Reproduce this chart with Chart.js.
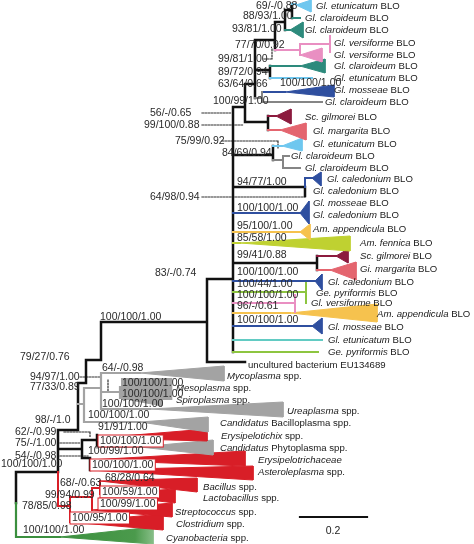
<!DOCTYPE html>
<html><head><meta charset="utf-8">
<script src="https://cdn.jsdelivr.net/npm/chart.js@4.4.0/dist/chart.umd.min.js"></script>
<style>html,body{margin:0;padding:0;background:#fff}canvas{display:block}
.fp{position:absolute;left:-9999px;top:0;font-family:'Liberation Sans'}</style>
</head><body>
<span class="fp">Gl. BLO 100/100</span><span class="fp" style="font-style:italic">Gl. etunicatum</span>
<canvas id="c" width="474" height="544" style="width:474px;height:544px"></canvas>
<script>
// ---------- DATA: tree layout (x = branch-length axis, y = row axis) ----------
// terminal labels: italic part, plain part, tip position
const leafItalic = ["Gl. etunicatum","Gl. claroideum","Gl. claroideum","Gl. versiforme","Gl. versiforme","Gl. claroideum","Gl. etunicatum","Gl. mosseae","Gl. claroideum","Sc. gilmorei","Gl. margarita","Gl. etunicatum","Gl. claroideum","Gl. claroideum","Gl. caledonium","Gl. caledonium","Gl. mosseae","Gl. caledonium","Am. appendicula","Am. fennica","Sc. gilmorei","Gi. margarita","Gl. caledonium","Ge. pyriformis","Gl. versiforme","Am. appendicula","Gl. mosseae","Gl. etunicatum","Ge. pyriformis","","Mycoplasma","Mesoplasma","Spiroplasma","Ureaplasma","Candidatus","Erysipelotichix","Candidatus","Erysipelotrichaceae","Asteroleplasma","Bacillus","Lactobacillus","Streptococcus","Clostridium","Cyanobacteria"];
const leafPlain = [" BLO"," BLO"," BLO"," BLO"," BLO"," BLO"," BLO"," BLO"," BLO"," BLO"," BLO"," BLO"," BLO"," BLO"," BLO"," BLO"," BLO"," BLO"," BLO"," BLO"," BLO"," BLO"," BLO"," BLO"," BLO"," BLO"," BLO"," BLO"," BLO","uncultured bacterium EU134689"," spp."," spp."," spp."," spp."," Bacilloplasma spp."," spp."," Phytoplasma spp.",""," spp."," spp."," spp."," spp."," spp."," spp."];
const leafX = [316,305,305,334,334,334,334,334,325,305,313,313,291,305,327,313,313,313,313,360,360,360,328,316,311,377,328,328,328,248,227,176,176,287,220,221,220,258,258,203,203,175,176,166];
const leafY = [6,18,30,43,55,66,78,90,102,117,131,144,156,168,179,191,203,215,229,243,256,269,282,293,303,314,327,340,352,365,376,388,400,411,423,436,448,460,472,487,498,512,524,538];

// node support values (bootstrap ML / MP / posterior) and their anchor
const supText = ["69/-/0.88","88/93/1.00","93/81/1.00","77/70/0.92","99/81/1.00","89/72/0.94","63/64/0.66","100/100/1.00","100/99/1.00","56/-/0.65","99/100/0.88","75/99/0.92","84/69/0.94","94/77/1.00","64/98/0.94","100/100/1.00","95/100/1.00","85/58/1.00","99/41/0.88","83/-/0.74","100/100/1.00","100/44/1.00","100/100/1.00","96/-/0.61","100/100/1.00","100/100/1.00","79/27/0.76","64/-/0.98","94/97/1.00","77/33/0.89","100/100/1.00","100/100/1.00","100/100/1.00","100/100/1.00","98/-/1.0","91/91/1.00","62/-/0.99","100/100/1.00","75/-/1.00","100/99/1.00","54/-/0.98","100/100/1.00","100/100/1.00","68/-/0.63","68/28/0.64","99/94/0.99","100/59/1.00","100/99/1.00","78/85/0.98","100/95/1.00","100/100/1.00"];
const supX = [256,243,232,235,218,218,218,280,213,150,144,175,222,237,150,237,237,237,237,155,237,237,237,237,237,100,20,102,30,30,122,122,102,88,35,98,15,100,15,88,15,1,92,60,105,45,102,100,22,72,23];
const supY = [6,16,29,45,59,72,84,83,101,113,125,141,153,182,197,208,226,238,255,273,272,284,295,306,320,317,357,368,377,387,383,394,404,415,420,427,432,441,443,451,456,464,465,483,478,495,492,504,506,518,530];

// branches (x1,y1,x2,y2), grouped by lineage
const blackBranches = [[16,472,16,503],[16,472,58,472],[58,430,58,472],[58,430,78,430],[78,383,78,430],[78,383,86,383],[86,360,86,383],[86,360,101,360],[101,322,101,360],[101,322,207,322],[207,279,207,362],[207,362,245,362],[207,279,233,279],[233,107,233,352],[58,449,82,449],[82,440,82,458],[82,440,97,440],[97,435,97,447],[82,458,90,458],[90,458,90,470],[233,107,245,107],[245,84,245,122],[245,122,268,122],[268,116,268,130],[245,84,255,84],[255,40,255,98],[255,40,275,40],[275,22,275,50],[275,22,285,22],[285,10,285,30],[285,10,292,10],[292,4,292,18],[255,70,270,70],[270,66,270,78],[233,155,273,155],[273,146,273,160],[233,187,305,187],[305,187,305,196],[233,263,317,263],[317,256,317,270]];
const mollicuteBranches = [[78,404,84,404],[84,388,84,422],[84,388,101,388],[101,373,101,409],[101,373,140,373],[101,392,120,392],[120,387,120,398],[101,409,150,409],[84,422,140,422],[97,447,140,447]];
const claroideumBranches = [[255,98,262,98],[262,92,262,102],[262,102,322,102],[273,160,283,160],[283,156,283,168],[283,156,289,156],[283,168,300,168]];
const firmicuteBranches = [[58,472,58,506],[58,506,70,506],[70,497,70,522],[70,497,92,497],[92,488,92,510],[92,488,100,488],[100,481,100,494]];
const versiformeBranches = [[275,50,300,50],[300,44,300,55],[300,44,330,44],[330,36,330,52],[233,303,295,303],[295,295,295,312]];
const margaritaBranches = [[268,130,280,130],[317,270,330,270]];
const gilmoreiBranches = [[268,116,276,116],[317,256,336,256]];
const claroTealBranches = [[270,66,300,66],[285,30,290,30],[292,18,300,18]];
const etunicatumBranches = [[292,4,296,4],[270,78,312,78],[273,146,282,146]];
const mosseaeBranches = [[262,92,285,92],[305,178,305,187],[305,178,313,178],[233,213,300,213],[233,281,315,281],[233,326,312,326]];
const appendiculaBranches = [[233,232,300,232],[233,313,290,313]];
const fennicaBranches = [[233,243,240,243]];
const pyriformisBranches = [[233,292,306,292],[306,282,306,303],[233,352,318,352]];
const etunicatum2Branches = [[233,340,322,340]];
const cyanoBranches = [[16,503,16,537],[16,537,60,537]];

// collapsed clades: apex x, apex y, tip x, tip top y, tip bottom y
const cladeShapes = [[296,5,311,0,12],[290,30,303,22,38],[300,55,322,48,62],[300,66,325,59,73],[285,92,334,85,97],[276,116,291,109,124],[280,130,306,123,140],[282,146,302,138,151],[312,178,321,172,186],[300,213,309,201,224],[300,232,310,224,240],[240,243,350,236,251],[336,256,348,249,263],[330,270,356,262,280],[315,281,322,274,290],[290,313,377,304,322],[312,326,322,318,334],
[140,373,224,366,381],[120,387,162,381,393],[120,398,162,393,406],[150,409,283,402,417],[140,422,208,417,432],[98,438,207,429,441],[140,447,213,440,455],[90,460,245,451,466],[90,470,253,466,480],[100,481,197,478,492],[100,494,175,489,503],[92,510,172,503,517],[70,522,163,514,530],[60,537,153,527,544]];
const cladeGroup = ["etun","claroT","vers","claroT","moss","gilm","marg","etun","moss","moss","app","fenn","gilm","marg","moss","app","moss","mol","mol","mol","mol","mol","firm","mol","firm","firm","firm","firm","firm","firm","cyano"];

// dotted leaders from support values to their nodes
const leaderLines = [[264,59,272,59],[272,49,272,59],[264,72,270,72],[202,113,232,113],[202,125,243,125],[222,141,278,141],[278,141,278,148],[202,197,305,197],[80,377,100,377],[108,380,108,392],[64,432,90,432],[90,432,90,438],[60,443,80,443],[60,456,88,456]];
// scale bar (0.2 substitutions per site)
const scaleBar = [[300,517,367,517]];
const scaleLabel = "0.2";

// ---------- STYLE ----------
const palette = {black:"#111111",mol:"#a3a3a3",claroG:"#858585",firm:"#d81e27",vers:"#e98fc2",marg:"#e4656f",gilm:"#8c1b3e",claroT:"#2d8a7c",etun:"#6fc7ef",moss:"#2f4f9f",app:"#f6c24e",fenn:"#bfd131",pyr:"#8dc540",etun2:"#62cbc3",cyano:"#3b8f3e"};
const boxedSupports = {37:palette.firm,42:palette.firm,46:palette.firm,47:palette.firm,49:palette.firm};
const grayBoxSupports = {30:palette.mol,31:palette.mol};
const LEAF_SIZE = 9.6, SUP_SIZE = 10.5;

function segData(list){
  const pts=[];
  list.forEach(s=>{pts.push({x:s[0],y:s[1]});pts.push({x:s[2],y:s[3]});pts.push({x:s[2],y:null});});
  return pts;
}
function lineSet(list,color,w,dash){
  return {data:segData(list),borderColor:color,borderWidth:w,borderDash:dash||[],pointRadius:0,fill:false,tension:0,spanGaps:false,order:0,borderCapStyle:'square',borderJoinStyle:'miter'};
}
function cyanoFill(context){
  const chart=context.chart, a=chart.chartArea;
  if(!a) return palette.cyano;
  const xs=chart.scales.x;
  const g=chart.ctx.createLinearGradient(xs.getPixelForValue(60),0,xs.getPixelForValue(160),0);
  g.addColorStop(0,palette.cyano);g.addColorStop(0.75,"#4b9a4c");g.addColorStop(1,"#9ccb9c");
  return g;
}
const datasets=[];
cladeShapes.forEach((c,i)=>{
  const col=palette[cladeGroup[i]];
  const bg = cladeGroup[i]==="cyano" ? cyanoFill : col;
  datasets.push({data:[{x:c[0],y:c[1]},{x:c[2],y:c[3]},{x:c[2],y:c[4]},{x:c[0],y:c[1]}],borderColor:bg,backgroundColor:bg,borderWidth:1,pointRadius:0,fill:'shape',tension:0,order:2});
});
datasets.push(lineSet(mollicuteBranches,palette.mol,2.2));
datasets.push(lineSet(claroideumBranches,palette.claroG,2));
datasets.push(lineSet(firmicuteBranches,palette.firm,2));
datasets.push(lineSet(versiformeBranches,palette.vers,2));
datasets.push(lineSet(margaritaBranches,palette.marg,2));
datasets.push(lineSet(gilmoreiBranches,palette.gilm,2));
datasets.push(lineSet(claroTealBranches,palette.claroT,2));
datasets.push(lineSet(etunicatumBranches,palette.etun,2));
datasets.push(lineSet(mosseaeBranches,palette.moss,2));
datasets.push(lineSet(appendiculaBranches,palette.app,2));
datasets.push(lineSet(fennicaBranches,palette.fenn,2));
datasets.push(lineSet(pyriformisBranches,palette.pyr,2));
datasets.push(lineSet(etunicatum2Branches,palette.etun2,2));
datasets.push(lineSet(cyanoBranches,palette.cyano,2.2));
datasets.push(lineSet(blackBranches,palette.black,2.5));
datasets.push(lineSet(leaderLines,"#333",1.2,[1.5,1.5]));
datasets.push(lineSet(scaleBar,"#111",2.2));

const FONT="'Liberation Sans', Arial, sans-serif";
const labelPlugin={
  id:'treeLabels',
  afterDatasetsDraw(chart){
    const ctx=chart.ctx, xs=chart.scales.x, ys=chart.scales.y;
    ctx.save();
    ctx.textBaseline='middle';
    ctx.font=SUP_SIZE+"px "+FONT;
    supText.forEach((t,i)=>{
      const px=xs.getPixelForValue(supX[i]), py=ys.getPixelForValue(supY[i]);
      const w=ctx.measureText(t).width;
      if(boxedSupports[i]){
        ctx.fillStyle="#fff";ctx.fillRect(px-2,py-6,w+4,12);
        ctx.strokeStyle=boxedSupports[i];ctx.lineWidth=1;ctx.strokeRect(px-2,py-6,w+4,12);
      } else if(grayBoxSupports[i]){
        ctx.fillStyle=grayBoxSupports[i];ctx.fillRect(px-1,py-5,w-10,11);
      }
      ctx.fillStyle="#2a2a2a";ctx.textAlign='left';
      ctx.fillText(t,px,py);
    });
    leafX.forEach((lx,i)=>{
      let px=xs.getPixelForValue(lx); const py=ys.getPixelForValue(leafY[i]);
      ctx.fillStyle="#1a1a1a";ctx.textAlign='left';
      if(leafItalic[i]){ctx.font="italic "+LEAF_SIZE+"px "+FONT;ctx.fillText(leafItalic[i],px,py);px+=ctx.measureText(leafItalic[i]).width;}
      if(leafPlain[i]){ctx.font=LEAF_SIZE+"px "+FONT;ctx.fillText(leafPlain[i],px,py);}
    });
    ctx.font="10.5px "+FONT;ctx.textAlign='center';ctx.fillStyle="#222";
    ctx.fillText(scaleLabel,xs.getPixelForValue(333),ys.getPixelForValue(531));
    ctx.restore();
  }
};

function draw(){
  new Chart(document.getElementById('c'),{
    type:'line',
    data:{datasets},
    options:{
      responsive:false,animation:false,
      layout:{padding:0},
      plugins:{legend:{display:false},tooltip:{enabled:false}},
      scales:{
        x:{type:'linear',min:0,max:474,display:false},
        y:{type:'linear',min:0,max:544,reverse:true,display:false}
      },
      elements:{point:{radius:0}}
    },
    plugins:[labelPlugin]
  });
}
Promise.all([document.fonts.load("10.5px 'Liberation Sans'"),document.fonts.load("italic 10px 'Liberation Sans'")]).then(draw,draw);
</script>
</body></html>
